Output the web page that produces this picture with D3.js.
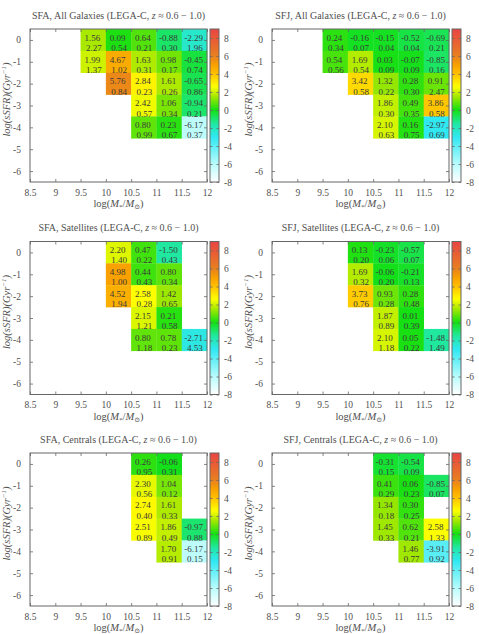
<!DOCTYPE html>
<html><head><meta charset="utf-8">
<script src="https://cdn.jsdelivr.net/npm/d3@7"></script>
<style>
html,body{margin:0;padding:0;background:#fff;}
svg, svg text{font-family:"Liberation Serif","DejaVu Serif",serif;}
</style></head>
<body><svg id="c" width="479" height="634"></svg>
<script>
// ---- data ----
const massBins = [9.75, 10.25, 10.75, 11.25, 11.75];
const ssfrBins = [0, -1, -2, -3, -4];
const xTicks = [8.5, 9, 9.5, 10, 10.5, 11, 11.5, 12];
const yTicks = [0, -1, -2, -3, -4, -5, -6];
const cbTicks = [8, 6, 4, 2, 0, -2, -4, -6, -8];
const panelTitles = ["SFA, All Galaxies", "SFJ, All Galaxies", "SFA, Satellites", "SFJ, Satellites", "SFA, Centrals", "SFJ, Centrals"];

const sfaAllValues = [[1.56,0.09,0.64,-0.88,-2.29],[1.99,4.67,1.63,0.98,-0.45],[null,5.76,2.84,1.61,-0.65],[null,null,2.42,1.06,-0.94],[null,null,0.80,0.23,-6.17]];
const sfaAllErrors = [[2.27,0.54,0.21,0.30,1.96],[1.37,1.02,0.31,0.17,0.74],[null,0.84,0.23,0.26,0.86],[null,null,0.57,0.34,0.21],[null,null,0.99,0.67,0.37]];
const sfjAllValues = [[0.24,-0.16,-0.15,-0.52,-0.69],[0.54,1.69,0.03,-0.07,-0.85],[null,3.42,1.32,0.28,0.91],[null,null,1.86,0.49,3.86],[null,null,2.10,0.16,-2.97]];
const sfjAllErrors = [[0.34,0.07,0.04,0.04,0.21],[0.56,0.54,0.09,0.09,0.16],[null,0.58,0.22,0.30,2.47],[null,null,0.30,0.35,0.58],[null,null,0.63,0.75,0.69]];
const sfaSatValues = [[null,2.20,0.47,-1.50,null],[null,4.98,0.44,0.80,null],[null,4.52,2.58,1.42,null],[null,null,2.15,0.21,null],[null,null,0.80,0.78,-2.71]];
const sfaSatErrors = [[null,1.40,0.22,0.43,null],[null,1.00,0.43,0.34,null],[null,1.94,0.28,0.65,null],[null,null,1.21,0.58,null],[null,null,1.18,0.23,4.53]];
const sfjSatValues = [[null,0.13,-0.23,-0.57,null],[null,1.69,-0.06,-0.21,null],[null,3.73,0.93,0.28,null],[null,null,1.87,0.01,null],[null,null,2.10,0.05,-1.48]];
const sfjSatErrors = [[null,0.20,0.06,0.07,null],[null,0.32,0.20,0.13,null],[null,0.76,0.28,0.48,null],[null,null,0.89,0.39,null],[null,null,1.18,0.22,1.49]];
const sfaCenValues = [[null,null,0.26,-0.06,null],[null,null,2.30,1.04,null],[null,null,2.74,1.61,null],[null,null,2.51,1.86,-0.97],[null,null,null,1.70,-6.17]];
const sfaCenErrors = [[null,null,0.95,0.31,null],[null,null,0.56,0.12,null],[null,null,0.40,0.33,null],[null,null,0.89,0.49,0.88],[null,null,null,0.91,0.15]];
const sfjCenValues = [[null,null,-0.31,-0.54,null],[null,null,0.41,0.06,-0.85],[null,null,1.34,0.30,null],[null,null,1.45,0.62,2.58],[null,null,null,1.46,-3.91]];
const sfjCenErrors = [[null,null,0.15,0.09,null],[null,null,0.29,0.23,0.07],[null,null,0.18,0.25,null],[null,null,0.33,0.21,1.33],[null,null,null,0.77,0.92]];

const paletteStops = [-8, -6, -3, -1.5, 0, 1.5, 2.6, 4, 5, 6, 9];
const paletteColors = ["#ffffff","#b8fcfc","#30e8f2","#20e8a0","#14e014","#a4e800","#ffff00","#ffc000","#f8a000","#e88020","#e84444"];

// ---- layout ----
const W = 177, H = 153;
const colX = [30, 272];
const rowY = [29, 241.5, 453];
const FONT = "Liberation Serif, DejaVu Serif, serif";
const panelData = [
  {v: sfaAllValues, e: sfaAllErrors}, {v: sfjAllValues, e: sfjAllErrors},
  {v: sfaSatValues, e: sfaSatErrors}, {v: sfjSatValues, e: sfjSatErrors},
  {v: sfaCenValues, e: sfaCenErrors}, {v: sfjCenValues, e: sfjCenErrors}
];

const loc = d3.formatLocale({decimal: ".", thousands: ",", grouping: [3], currency: ["", ""], minus: "-"});
const f2 = loc.format(".2f");
const fTick = loc.format("~g");

const x = d3.scaleLinear().domain([8.5, 12]).range([0, W]);
const y = d3.scaleLinear().domain([-6.5, 0.5]).range([H, 0]);
const cb = d3.scaleLinear().domain([-8, 9]).range([H, 0]);
const color = d3.scaleLinear().domain(paletteStops).range(paletteColors).interpolate(d3.interpolateRgb);

const svg = d3.select("#c").attr("font-family", FONT);
const defs = svg.append("defs");
const grad = defs.append("linearGradient").attr("id", "cbgrad").attr("x1", 0).attr("x2", 0).attr("y1", 1).attr("y2", 0);
d3.range(-8, 9.01, 0.25).forEach(v => {
  grad.append("stop").attr("offset", (v + 8) / 17).attr("stop-color", color(v));
});

const textCol = "#505050";
const frameCol = "#666";

function styleAxis(a) {
  a.attr("font-family", FONT).attr("font-size", 9.5);
  a.select(".domain").remove();
  a.selectAll("line").attr("stroke", frameCol).attr("stroke-width", 0.8);
  a.selectAll("text").attr("fill", textCol).attr("font-size", 9.5).attr("font-family", FONT);
}

panelData.forEach((pd, i) => {
  const col = i % 2, row = Math.floor(i / 2);
  const g = svg.append("g").attr("transform", `translate(${colX[col]},${rowY[row]})`);

  // cells
  const cells = [];
  ssfrBins.forEach((s, r) => massBins.forEach((m, c) => {
    const v = pd.v[r][c];
    if (v !== null) cells.push({m, s, v, e: pd.e[r][c]});
  }));
  g.selectAll("rect.cell").data(cells).join("rect").attr("class", "cell")
    .attr("x", d => x(d.m - 0.25)).attr("y", d => y(d.s + 0.5))
    .attr("width", d => x(d.m + 0.25) - x(d.m - 0.25) + 0.3)
    .attr("height", d => y(d.s - 0.5) - y(d.s + 0.5) + 0.3)
    .attr("fill", d => color(d.v));
  const tg = g.selectAll("g.lab").data(cells).join("g").attr("class", "lab")
    .attr("transform", d => `translate(${x(d.m)},${y(d.s)})`)
    .attr("font-size", 9).attr("font-family", FONT).attr("fill", "#3a3a3a").attr("text-anchor", "middle");
  tg.append("text").attr("x", -0.8).attr("y", 0.8).text(d => f2(d.v));
  tg.append("text").attr("x", 0.6).attr("y", 11).text(d => f2(d.e));

  // axes ticks (inward, mirrored)
  const ax = g.append("g").attr("transform", `translate(0,${H})`)
    .call(d3.axisBottom(x).tickValues(xTicks).tickFormat(fTick).tickSizeInner(-3).tickSizeOuter(0).tickPadding(7));
  const axT = g.append("g").call(d3.axisTop(x).tickValues(xTicks).tickFormat("").tickSizeInner(-3).tickSizeOuter(0));
  const ay = g.append("g").call(d3.axisLeft(y).tickValues(yTicks).tickFormat(fTick).tickSizeInner(-3).tickSizeOuter(0).tickPadding(9));
  const ayR = g.append("g").attr("transform", `translate(${W},0)`).call(d3.axisRight(y).tickValues(yTicks).tickFormat("").tickSizeInner(-3).tickSizeOuter(0));
  [ax, axT, ay, ayR].forEach(styleAxis);

  // frame
  g.append("rect").attr("x", 0).attr("y", 0).attr("width", W).attr("height", H)
    .attr("fill", "none").attr("stroke", frameCol).attr("stroke-width", 1);

  // colorbar
  const cbx = W + 3, cbw = 9;
  const cg = g.append("g").attr("transform", `translate(${cbx},0)`);
  cg.append("rect").attr("width", cbw).attr("height", H).attr("fill", "url(#cbgrad)");
  const cbAx = cg.append("g").attr("transform", `translate(${cbw},0)`)
    .call(d3.axisRight(cb).tickValues(cbTicks).tickFormat(fTick).tickSizeInner(-2.5).tickSizeOuter(0).tickPadding(5));
  const cbAxL = cg.append("g").call(d3.axisLeft(cb).tickValues(cbTicks).tickFormat("").tickSizeInner(-2.5).tickSizeOuter(0));
  [cbAx, cbAxL].forEach(styleAxis);
  cg.append("rect").attr("width", cbw).attr("height", H).attr("fill", "none").attr("stroke", frameCol).attr("stroke-width", 1);

  // title
  const t = g.append("text").attr("x", W / 2).attr("y", -10.5).attr("text-anchor", "middle")
    .attr("font-size", 10).attr("font-family", FONT).attr("fill", textCol);
  t.append("tspan").text(panelTitles[i] + " (LEGA-C, ");
  t.append("tspan").attr("font-style", "italic").text("z");
  t.append("tspan").text(" \u2248 0.6 \u2212 1.0)");

  // x title
  const xt = g.append("text").attr("x", W / 2).attr("y", H + 25).attr("text-anchor", "middle")
    .attr("font-size", 10.5).attr("font-family", FONT).attr("fill", textCol);
  xt.append("tspan").text("log(");
  xt.append("tspan").attr("font-style", "italic").text("M");
  xt.append("tspan").attr("font-size", 7).attr("dy", 2).text("*");
  xt.append("tspan").attr("dy", -2).text("/");
  xt.append("tspan").attr("font-style", "italic").text("M");
  xt.append("tspan").attr("font-size", 7).attr("dy", 2).text("\u2299");
  xt.append("tspan").attr("dy", -2).text(")");

  // y title
  const yt = g.append("text").attr("transform", `translate(${-20},${H / 2 - 6}) rotate(-90)`)
    .attr("text-anchor", "middle").attr("font-size", 10.5).attr("font-family", FONT).attr("fill", textCol).attr("font-style", "italic");
  yt.append("tspan").text("log(sSFR)(Gyr");
  yt.append("tspan").attr("font-size", 7).attr("dy", -4).text("\u22121");
  yt.append("tspan").attr("dy", 4).text(")");
});
</script></body></html>
